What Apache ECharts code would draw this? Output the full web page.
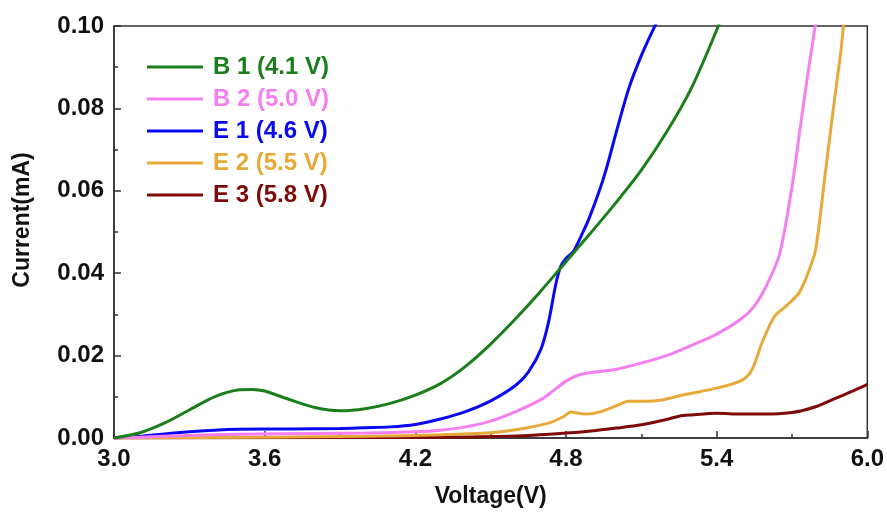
<!DOCTYPE html>
<html>
<head>
<meta charset="utf-8">
<script src="https://cdn.jsdelivr.net/npm/echarts@6/dist/echarts.min.js"></script>
<style>
  html, body { margin: 0; padding: 0; background: #fff; }
  #chart { width: 887px; height: 513px; }
</style>
</head>
<body>
<div id="chart"></div>
<script>
// [voltage, current]
const b1 = [
  [3.0, 0], [3.1, 0.0012], [3.2, 0.0036], [3.3, 0.0068], [3.4, 0.0100], [3.5, 0.0117],
  [3.55, 0.0118], [3.6, 0.0114], [3.7, 0.0093], [3.8, 0.0074], [3.9, 0.0066], [4.0, 0.0071],
  [4.1, 0.0084], [4.2, 0.0104], [4.3, 0.0132], [4.4, 0.0174], [4.5, 0.0228], [4.6, 0.0290],
  [4.7, 0.0357], [4.8, 0.0428], [4.9, 0.0499], [5.0, 0.0572], [5.1, 0.0650], [5.2, 0.0742],
  [5.3, 0.0850], [5.4, 0.0990], [5.42, 0.1022]
];
const b2 = [
  [3.0, 0], [3.1, 0.0002], [3.3, 0.0006], [3.5, 0.0009], [3.8, 0.0011], [4.0, 0.0012],
  [4.2, 0.0015], [4.3, 0.0019], [4.4, 0.0027], [4.5, 0.0041], [4.6, 0.0064], [4.7, 0.0093],
  [4.75, 0.0115], [4.8, 0.0138], [4.85, 0.0153], [4.9, 0.0159], [5.0, 0.0167], [5.1, 0.0182],
  [5.2, 0.0200], [5.3, 0.0225], [5.4, 0.0252], [5.5, 0.0290], [5.55, 0.0320], [5.6, 0.0372],
  [5.65, 0.0445], [5.7, 0.0610], [5.73, 0.0741], [5.76, 0.0870], [5.79, 0.0990], [5.8, 0.1025]
];
const e1 = [
  [3.0, 0], [3.1, 0.0004], [3.2, 0.0010], [3.3, 0.0015], [3.4, 0.0019], [3.5, 0.0021],
  [3.7, 0.0022], [3.9, 0.0023], [4.0, 0.0025], [4.1, 0.0027], [4.2, 0.0033], [4.3, 0.0046],
  [4.4, 0.0064], [4.5, 0.0090], [4.6, 0.0128], [4.65, 0.0160], [4.7, 0.0215], [4.73, 0.0280],
  [4.76, 0.0375], [4.78, 0.0418], [4.8, 0.0436], [4.83, 0.0453], [4.86, 0.0490], [4.89, 0.0530],
  [4.93, 0.0595], [4.96, 0.0652], [5.0, 0.0742], [5.05, 0.0848], [5.1, 0.0928], [5.15, 0.0995],
  [5.17, 0.1020]
];
const e2 = [
  [3.0, 0], [3.6, 0.0002], [4.0, 0.0004], [4.3, 0.0008], [4.5, 0.0013], [4.6, 0.0020],
  [4.73, 0.0036], [4.79, 0.0052], [4.82, 0.0063], [4.85, 0.0060], [4.88, 0.0058], [4.94, 0.0064],
  [5.0, 0.0078], [5.05, 0.0089], [5.12, 0.0089], [5.18, 0.0092], [5.27, 0.0105], [5.4, 0.0121],
  [5.5, 0.0140], [5.54, 0.0165], [5.58, 0.0230], [5.63, 0.0295], [5.68, 0.0322], [5.73, 0.0354],
  [5.77, 0.0410], [5.795, 0.0460], [5.836, 0.0660], [5.869, 0.0820], [5.895, 0.0940],
  [5.905, 0.1000], [5.91, 0.1025]
];
const e3 = [
  [3.0, 0], [4.0, 0.0001], [4.3, 0.0002], [4.6, 0.0005], [4.8, 0.0012], [4.9, 0.0017],
  [5.0, 0.0024], [5.1, 0.0032], [5.2, 0.0045], [5.25, 0.0053], [5.3, 0.0056], [5.4, 0.0060],
  [5.5, 0.0058], [5.6, 0.0058], [5.7, 0.0062], [5.75, 0.0068], [5.8, 0.0077], [5.85, 0.0090],
  [5.9, 0.0103], [5.95, 0.0116], [6.0, 0.0130]
];

const names = ['B 1 (4.1 V)', 'B 2 (5.0 V)', 'E 1 (4.6 V)', 'E 2 (5.5 V)', 'E 3 (5.8 V)'];
const colors = ['#1a7f1a', '#f47ff0', '#0808f5', '#e6a93a', '#7f0a0a'];
const seriesData = [b1, b2, e1, e2, e3];

const xTicks = [3.0, 3.6, 4.2, 4.8, 5.4, 6.0];
const yTicks = [0, 0.02, 0.04, 0.06, 0.08, 0.10];

const font = '"Liberation Sans", Arial, sans-serif';
const axisColor = '#333';

const chart = echarts.init(document.getElementById('chart'));

chart.setOption({
  animation: false,
  grid: {
    left: 114, right: 18, top: 26, bottom: 73,
    show: true, borderColor: axisColor, borderWidth: 1.5
  },
  legend: {
    left: 147, top: 55, orient: 'vertical', padding: 0,
    itemWidth: 56, itemHeight: 3, itemGap: 8,
    icon: 'rect',
    data: names.map((n, i) => ({
      name: n,
      textStyle: {
        color: colors[i], fontWeight: 'bold', fontSize: 24, lineHeight: 23,
        fontFamily: font, padding: [0, 0, 0, 5]
      }
    }))
  },
  xAxis: {
    type: 'value', min: xTicks[0], max: xTicks[xTicks.length - 1], interval: 0.6,
    name: 'Voltage(V)', nameLocation: 'middle', nameGap: 47,
    nameTextStyle: { fontFamily: font, fontWeight: 'bold', fontSize: 23, color: '#111' },
    axisLine: { lineStyle: { color: axisColor, width: 1.5 } },
    axisTick: { inside: true, length: 7, lineStyle: { color: axisColor, width: 1.5 } },
    minorTick: { show: true, splitNumber: 2, length: 4, lineStyle: { color: axisColor, width: 1.5 } },
    splitLine: { show: false },
    axisLabel: {
      margin: 9, color: '#111', fontFamily: font, fontWeight: 'bold', fontSize: 24,
      formatter: v => v.toFixed(1)
    }
  },
  yAxis: {
    type: 'value', min: yTicks[0], max: yTicks[yTicks.length - 1], interval: 0.02,
    name: 'Current(mA)', nameLocation: 'middle', nameGap: 80,
    nameTextStyle: {
      fontFamily: font, fontWeight: 'bold', fontSize: 23, color: '#111',
      padding: [0, 0, 0, 24]
    },
    axisLine: { show: true, lineStyle: { color: axisColor, width: 1.5 } },
    axisTick: { show: true, inside: true, length: 7, lineStyle: { color: axisColor, width: 1.5 } },
    minorTick: { show: true, splitNumber: 2, length: 4, lineStyle: { color: axisColor, width: 1.5 } },
    splitLine: { show: false },
    axisLabel: {
      margin: 10, color: '#111', fontFamily: font, fontWeight: 'bold', fontSize: 24,
      formatter: v => v.toFixed(2)
    }
  },
  series: seriesData.map((d, i) => ({
    name: names[i],
    type: 'line',
    data: d,
    smooth: 0.3,
    showSymbol: false,
    color: colors[i],
    lineStyle: { width: 3, color: colors[i] },
    clip: true,
    z: 5 - i
  }))
});
</script>
</body>
</html>
